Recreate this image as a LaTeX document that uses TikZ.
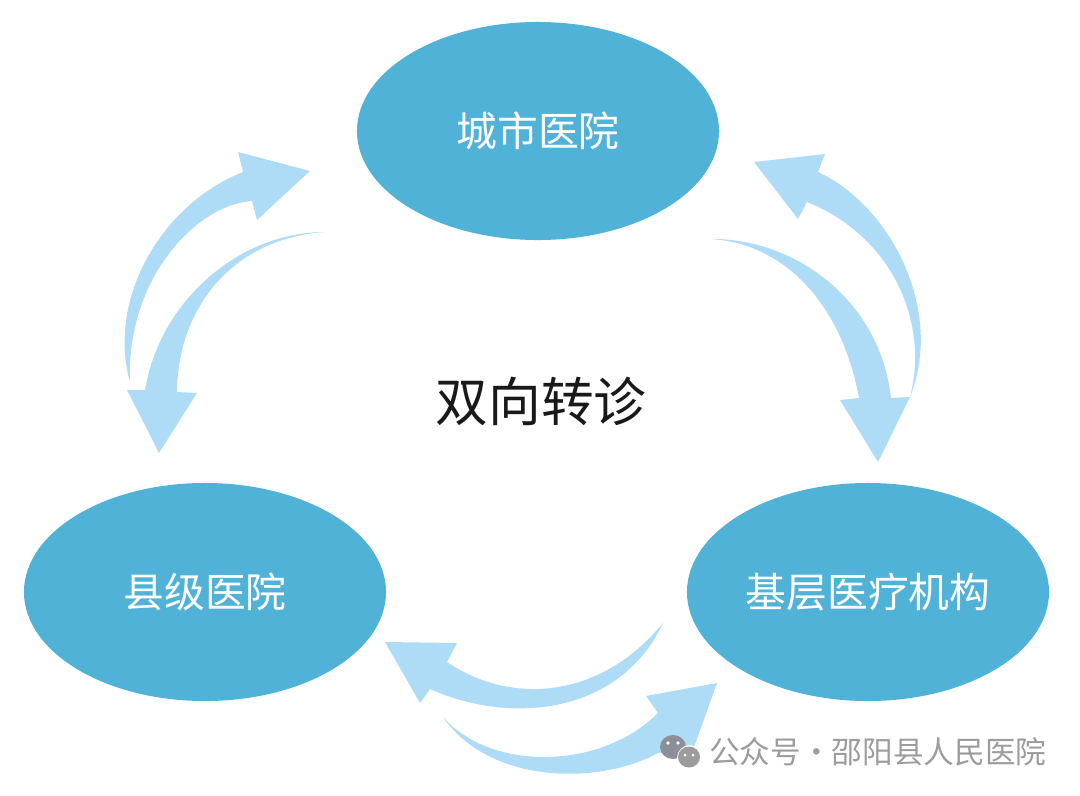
\documentclass[tikz,border=0pt]{standalone}
\usepackage{fontspec}
\setmainfont{Noto Sans CJK SC}
\usetikzlibrary{positioning,shapes.geometric}
\definecolor{hospital}{HTML}{51B2D8}
\definecolor{swoopblue}{HTML}{AEDBF6}
\definecolor{markgray}{HTML}{9C9C9C}
\definecolor{bubblegray}{HTML}{8A8F98}

\begin{document}
\begin{tikzpicture}[
    x=0.025cm, y=-0.025cm,
    site/.style={ellipse, fill=hospital, minimum width=9.05cm, minimum height=5.45cm,
        inner sep=0pt, align=center, text=white, font=\fontsize{29}{33}\selectfont},
    swoop/.style={fill=swoopblue, draw=none},
]
\useasboundingbox (0,0) rectangle (1080,796);

% Three hospital levels
\node[site] (city) at (538,131) {城市医院};
\node[site] (county) at (205,592) {县级医院};
\node[site] (clinic) at (868,592) {基层医疗机构};

% Centre title
\node[font=\fontsize{37.5}{42}\selectfont, text=black!90] (title) at (541,401) {双向转诊};

% Left pair of arrows
\fill[swoop] (130,382) .. controls (107,300) and (160,205) .. (243,172)
    -- (238,152) -- (310,171) -- (257,220) -- (252,201)
    .. controls (195,205) and (126,280) .. (130,382) -- cycle;
\fill[swoop] (325,232) .. controls (240,232) and (160,300) .. (145,390)
    -- (127,390) -- (159,453) -- (197,393) -- (177,392)
    .. controls (178,305) and (235,238) .. (325,232) -- cycle;

% Right pair of arrows
\fill[swoop] (754,162) -- (825,154) -- (818,172)
    .. controls (890,205) and (945,310) .. (910,397)
    .. controls (930,320) and (890,235) .. (807,202)
    -- (798,219) -- cycle;
\fill[swoop] (710,239) .. controls (795,238) and (880,300) .. (891,398)
    -- (910,397) -- (878,462) -- (840,400) -- (859,398)
    .. controls (842,305) and (785,243) .. (710,239) -- cycle;

% Bottom pair of arrows
\fill[swoop] (385,642) -- (457,643) -- (447,662)
    .. controls (510,705) and (600,700) .. (663,623)
    .. controls (620,715) and (510,725) .. (430,689)
    -- (420,703) -- cycle;
\fill[swoop] (443,717) .. controls (490,771) and (600,771) .. (658,713)
    -- (646,696) -- (717,683) -- (693,750) -- (658,753)
    .. controls (600,785) and (490,785) .. (443,717) -- cycle;

% Watermark
\fill[bubblegray] (673,747) ellipse (13 and 12);
\fill[white] (690,758) circle (13);
\fill[markgray] (689,757) ellipse (11 and 10.5);
\fill[white] (668,743) circle (1.8) (678,743) circle (1.8) (685,755) circle (1.5) (693,755) circle (1.5);
\node[font=\fontsize{21.8}{24}\selectfont, text=markgray, anchor=west, inner sep=0pt] (mark) at (709,752) {公众号·邵阳县人民医院};
\end{tikzpicture}
\end{document}
